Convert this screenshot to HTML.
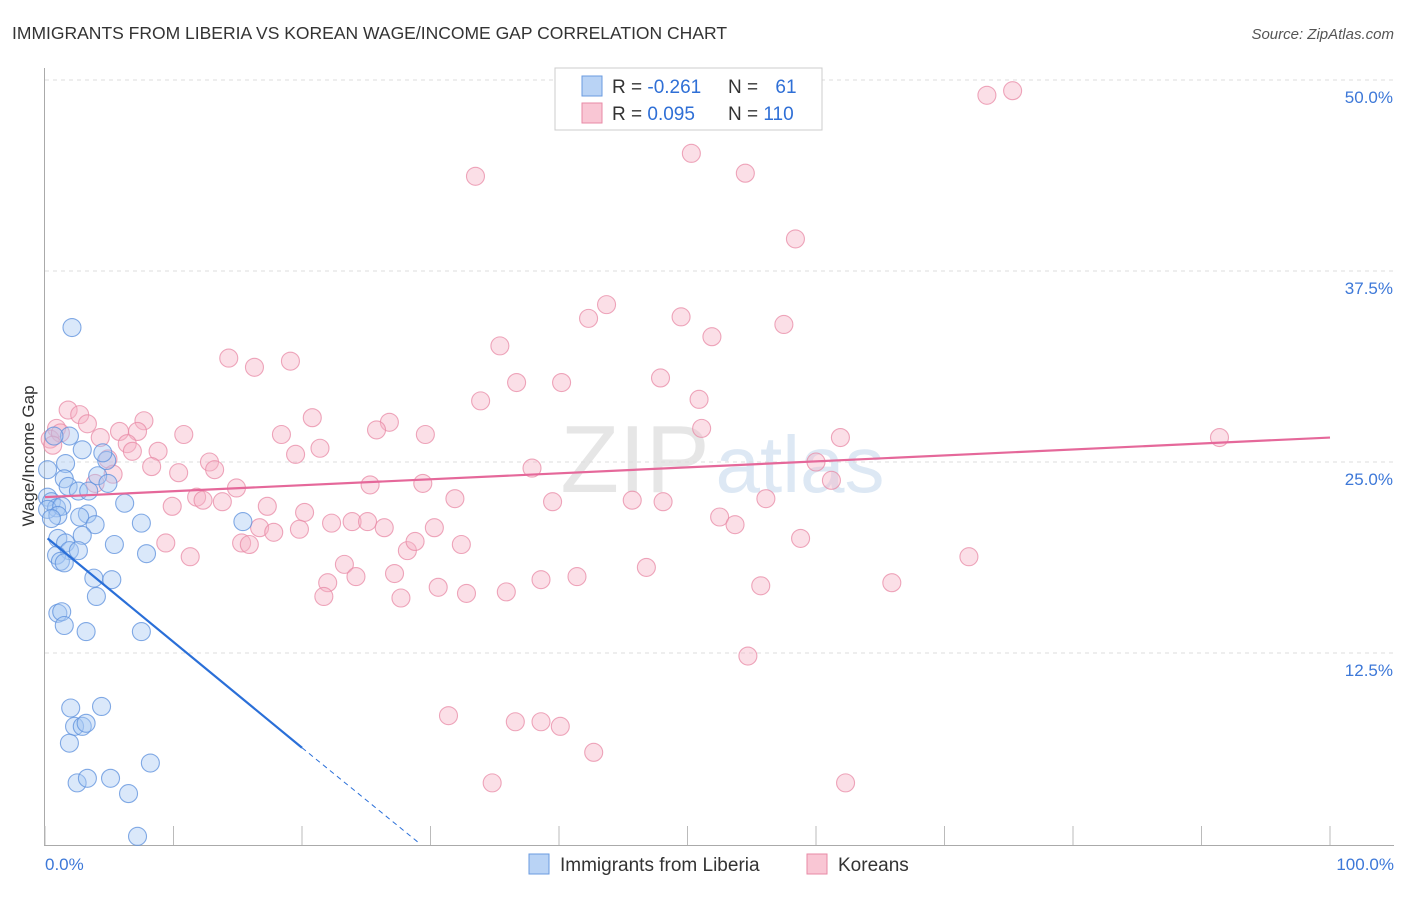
<!DOCTYPE html>
<html><head><meta charset="utf-8"><style>
body{margin:0;background:#fff;font-family:"Liberation Sans",sans-serif}
svg text{font-family:"Liberation Sans",sans-serif}
</style></head><body>
<svg id="chart" width="1406" height="892" viewBox="0 0 1406 892">
<text x="12" y="39" font-size="17.5" fill="#333">IMMIGRANTS FROM LIBERIA VS KOREAN WAGE/INCOME GAP CORRELATION CHART</text>
<text x="1394" y="39" font-size="15" fill="#555" font-style="italic" text-anchor="end">Source: ZipAtlas.com</text>
<g><text x="635" y="492" font-size="96" fill="#e6e6e6" font-family="Liberation Serif" text-anchor="middle">ZIP</text><text x="800" y="492" font-size="80" fill="#dde8f4" text-anchor="middle">atlas</text></g>
<g id="grid"></g>
<g id="axes"></g>
<g id="pts"></g>
<g id="trend"></g>
<text transform="translate(34,456) rotate(-90)" font-size="17" fill="#333" text-anchor="middle">Wage/Income Gap</text>
<g>
<rect x="555" y="68" width="267" height="62" fill="#fff" stroke="#ccc"/>
<rect x="582" y="76" width="20" height="20" fill="#b9d3f5" stroke="#6a9be0"/>
<rect x="582" y="103" width="20" height="20" fill="#f9c6d4" stroke="#e88aa6"/>
<text x="612" y="93" font-size="19" fill="#333">R = <tspan fill="#2f6fd6">-0.261</tspan></text>
<text x="728" y="93" font-size="19" fill="#333">N = <tspan fill="#2f6fd6" dx="12">61</tspan></text>
<text x="612" y="120" font-size="19" fill="#333">R = <tspan fill="#2f6fd6">0.095</tspan></text>
<text x="728" y="120" font-size="19" fill="#333">N = <tspan fill="#2f6fd6">110</tspan></text>
</g>
<g>
<rect x="529" y="854" width="20" height="20" fill="#b9d3f5" stroke="#6a9be0"/>
<text x="560" y="871" font-size="19" fill="#333">Immigrants from Liberia</text>
<rect x="807" y="854" width="20" height="20" fill="#f9c6d4" stroke="#e88aa6"/>
<text x="838" y="871" font-size="19" fill="#333">Koreans</text>
</g>
</svg>
<script>
const yTicks=[12.5,25,37.5,50];
const yTickLabels=["12.5%","25.0%","37.5%","50.0%"];
const xTickLabels=["0.0%","100.0%"];
const blueX=[2.1,2.9,1.6,0.2,1.5,1.8,2.6,3.4,0.2,0.5,0.9,0.2,1.3,3.3,2.7,1.0,0.5,3.9,6.2,7.5,15.4,2.9,1.0,1.6,1.9,2.6,0.9,1.2,1.5,5.4,7.9,3.8,5.2,4.0,1.0,1.3,1.5,3.2,7.5,2.0,4.4,2.3,2.9,3.2,1.9,2.5,3.3,5.1,8.2,6.5,7.2,4.1,4.8,4.5,1.9,0.7,4.9];
const blueY=[33.8,25.8,24.9,24.5,23.9,23.4,23.1,23.1,22.7,22.4,22.0,21.9,22.1,21.6,21.4,21.5,21.3,20.9,22.3,21.0,21.1,20.2,20.0,19.7,19.2,19.2,18.9,18.5,18.4,19.6,19.0,17.4,17.3,16.2,15.1,15.2,14.3,13.9,13.9,8.9,9.0,7.7,7.7,7.9,6.6,4.0,4.3,4.3,5.3,3.3,0.5,24.1,25.1,25.6,26.7,26.7,23.6];
const pinkX=[73.3,75.3,50.3,54.5,33.5,58.4,43.7,42.3,49.5,57.5,51.9,35.4,14.3,19.1,16.3,36.7,40.2,47.9,33.9,50.9,20.8,26.8,25.8,29.6,18.4,21.4,19.5,51.1,61.9,91.4,1.8,2.7,3.3,0.9,4.3,5.8,7.7,7.2,6.4,6.8,8.8,10.8,8.3,10.4,12.8,13.2,4.9,5.3,3.9,14.9,11.8,12.3,13.8,9.9,17.3,20.2,25.3,29.4,31.9,37.9,39.5,45.7,48.1,56.1,60.0,61.2,52.5,53.7,58.8,71.9,65.9,16.7,17.8,19.8,22.3,23.9,25.1,26.4,30.3,9.4,11.3,15.3,15.9,28.2,28.8,32.4,23.3,24.2,22.0,27.2,30.6,32.8,35.9,38.6,41.4,46.8,55.7,21.7,27.7,54.7,31.4,36.6,38.6,40.1,42.7,34.8,62.3,0.4,1.2,0.6];
const pinkY=[49.0,49.3,45.2,43.9,43.7,39.6,35.3,34.4,34.5,34.0,33.2,32.6,31.8,31.6,31.2,30.2,30.2,30.5,29.0,29.1,27.9,27.6,27.1,26.8,26.8,25.9,25.5,27.2,26.6,26.6,28.4,28.1,27.5,27.2,26.6,27.0,27.7,27.0,26.2,25.7,25.7,26.8,24.7,24.3,25.0,24.5,25.2,24.2,23.6,23.3,22.7,22.5,22.4,22.1,22.1,21.7,23.5,23.6,22.6,24.6,22.4,22.5,22.4,22.6,25.0,23.8,21.4,20.9,20.0,18.8,17.1,20.7,20.4,20.6,21.0,21.1,21.1,20.7,20.7,19.7,18.8,19.7,19.6,19.2,19.8,19.6,18.3,17.5,17.1,17.7,16.8,16.4,16.5,17.3,17.5,18.1,16.9,16.2,16.1,12.3,8.4,8.0,8.0,7.7,6.0,4.0,4.0,26.5,26.9,26.1];
const blueTrend=[[0.2,20.0],[20.0,6.3],[29.2,0]];
const pinkTrend=[[0,22.7],[100,26.6]];
const X=v=>45+v*12.85, Y=v=>844-v*15.28;
const NS="http://www.w3.org/2000/svg";
function mk(tag,attrs,parent){const e=document.createElementNS(NS,tag);for(const k in attrs)e.setAttribute(k,attrs[k]);parent.appendChild(e);return e;}
const grid=document.getElementById('grid'),axes=document.getElementById('axes'),pts=document.getElementById('pts'),tr=document.getElementById('trend');
yTicks.forEach((t,i)=>{
 const l=mk('line',{x1:45,x2:1394,y1:Y(t),y2:Y(t),stroke:'#ddd','stroke-dasharray':'4,4'},grid);
 
 
 const tx=mk('text',{x:1393,y:Y(t)+23,'font-size':17,fill:'#3d78d8','text-anchor':'end'},grid);
 tx.textContent=yTickLabels[i];
 
 
});
const ax=mk('path',{d:'M44.5 68V845.5H1394',stroke:'#aaa',fill:'none'},axes);


for(let i=0;i<=10;i++){const t=mk('line',{x1:X(i*10),x2:X(i*10),y1:826,y2:845,stroke:'#bbb'},axes);
 
 }
[[0,'start',45],[100,'end',1394]].forEach((d,i)=>{const t=mk('text',{x:d[2],y:870,'font-size':17,fill:'#3d78d8','text-anchor':d[1]},axes);t.textContent=xTickLabels[i];
 
 });
function dots(xs,ys,fill,stroke,name){xs.forEach((x,i)=>{const c=mk('circle',{cx:X(x),cy:Y(ys[i]),r:9,fill:fill,'fill-opacity':0.42,stroke:stroke,'stroke-width':1.1,'stroke-opacity':0.75},pts);
 
 });}
dots(pinkX,pinkY,'#f5b2c6','#e88aa6','korean-point');
dots(blueX,blueY,'#a8c8f2','#5b8fdc','liberia-point');
const b1=mk('line',{x1:X(blueTrend[0][0]),y1:Y(blueTrend[0][1]),x2:X(blueTrend[1][0]),y2:Y(blueTrend[1][1]),stroke:'#2a6fd8','stroke-width':2.2},tr);


const b2=mk('line',{x1:X(blueTrend[1][0]),y1:Y(blueTrend[1][1]),x2:X(blueTrend[2][0]),y2:Y(blueTrend[2][1]),stroke:'#2a6fd8','stroke-width':1,'stroke-dasharray':'5,4'},tr);


const p1=mk('line',{x1:X(pinkTrend[0][0]),y1:Y(pinkTrend[0][1]),x2:X(pinkTrend[1][0]),y2:Y(pinkTrend[1][1]),stroke:'#e5689a','stroke-width':2.2},tr);


</script>
</body></html>
